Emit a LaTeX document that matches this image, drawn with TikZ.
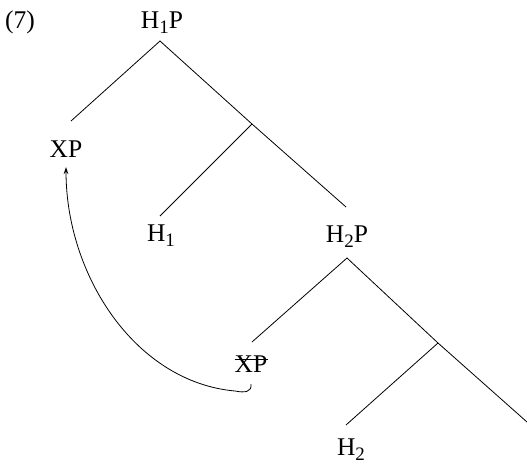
\documentclass[tikz,border=0pt]{standalone}
\usepackage{fontspec}
\setmainfont{Liberation Serif}
\usetikzlibrary{arrows.meta}
\newcommand\mysub[1]{\raisebox{-0.22em}{\fontsize{19}{19}\selectfont #1}}
\begin{document}
\begin{tikzpicture}[x=1pt,y=-1pt,
  lbl/.style={font=\fontsize{25.5}{30}\selectfont, inner sep=0pt, anchor=base},
  branch/.style={line width=0.8pt},
  move/.style={line width=0.8pt,-{Stealth[length=7pt,width=4.5pt]}}]
\useasboundingbox (0,0) rectangle (527,464);
% labels
\node[lbl] (ex)  at (20,28)  {(7)};
\node[lbl] (h1p) at (162,28) {H\mysub{1}P};
\node[lbl] (xp1) at (66,157) {XP};
\node[lbl] (h1)  at (161,241) {H\mysub{1}};
\node[lbl] (h2p) at (347,242) {H\mysub{2}P};
\node[lbl] (xp2) at (251,372) {XP};
\node[lbl] (h2)  at (351,455) {H\mysub{2}};
% tree points
\coordinate (t1) at (160,41);
\coordinate (e1) at (71,121);
\coordinate (m1) at (252,124);
\coordinate (e2) at (346,207);
\coordinate (e3) at (160,216);
\coordinate (t2) at (347,258);
\coordinate (e4) at (252,342);
\coordinate (m2) at (438,343);
\coordinate (e5) at (527,422);
\coordinate (e6) at (346,425);
% branches
\draw[branch] (e1) -- (t1) -- (m1) -- (e2);
\draw[branch] (m1) -- (e3);
\draw[branch] (e4) -- (t2) -- (m2) -- (e5);
\draw[branch] (m2) -- (e6);
% strike-through of the trace
\draw[line width=0.8pt] ([yshift=13pt]xp2.base west) -- ([yshift=13pt]xp2.base east);
% movement arrow
\coordinate (a0) at (251,384);
\coordinate (a1) at (66,167);
\draw[move] (a0) .. controls (252,392) and (245,393) .. (235,391)
  .. controls (135,382) and (66,275) .. (a1);
\end{tikzpicture}
\end{document}
